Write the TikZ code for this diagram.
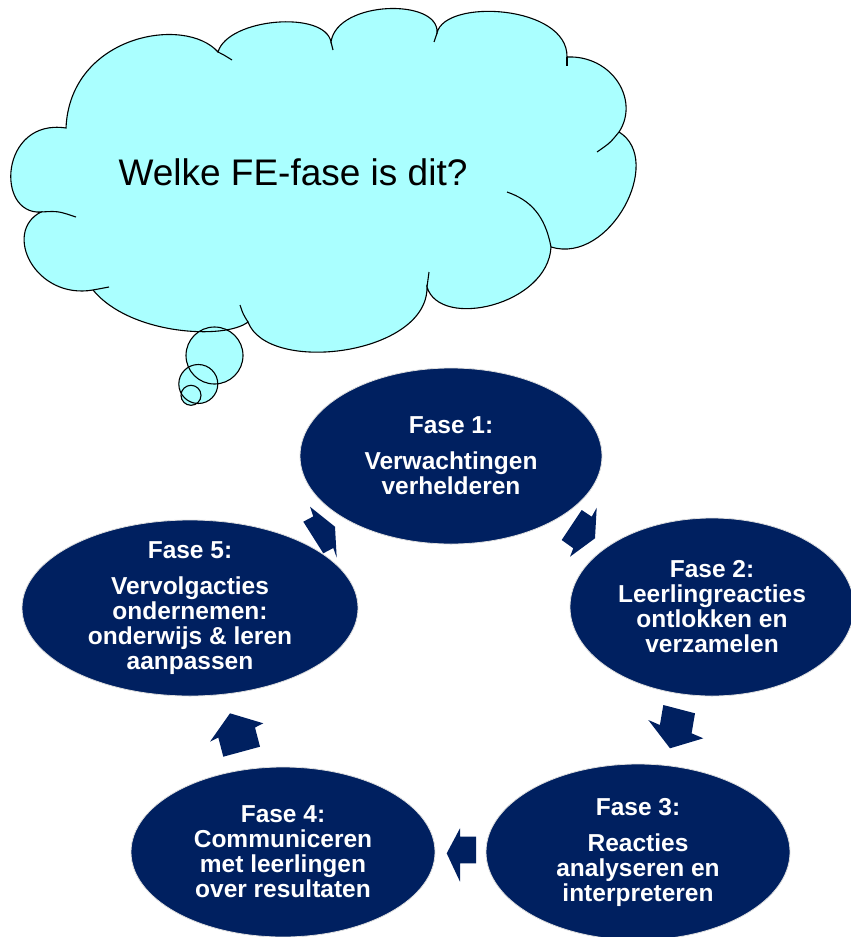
\documentclass[tikz,border=0pt]{standalone}
\usepackage{fontspec}
\setmainfont{Liberation Sans}
\usetikzlibrary{shapes.geometric}
\definecolor{navy}{RGB}{0,32,96}
\definecolor{cloudcyan}{RGB}{170,255,255}
\begin{document}
\begin{tikzpicture}[x=1pt,y=-1pt,
  phase/.style={ellipse, fill=navy, draw=gray!25, line width=0.8pt, inner sep=-8pt,
    text=white, font=\bfseries\fontsize{24.5}{25}\selectfont, align=center},
  blockarrow/.style={fill=navy},
  cloudline/.style={draw=black, line width=1.1pt},
  bubble/.style={fill=cloudcyan}]
\useasboundingbox (0,0) rectangle (851,937);

% cloud fill
\path[bubble] (66,128) .. controls (70,35) and (185,15) .. (218,52)
 .. controls (228,18) and (325,10) .. (331,42)
 .. controls (337,0) and (440,-2) .. (437,33)
 .. controls (445,-2) and (568,5) .. (567,57)
 .. controls (612,55) and (640,100) .. (619,132)
 .. controls (665,160) and (610,265) .. (551,247)
 .. controls (548,305) and (440,330) .. (427,287)
 .. controls (428,355) and (268,375) .. (248,322)
 .. controls (225,340) and (130,335) .. (93,290)
 .. controls (35,300) and (2,232) .. (41,212)
 .. controls (-5,215) and (0,118) .. (66,128) -- cycle;
\fill[bubble] (214.5,355.5) circle[radius=28.5];
\fill[bubble] (198.3,384) circle[radius=19.5];
\fill[bubble] (191,395.3) circle[radius=10];

% cloud outline
\path[cloudline] (66,128) .. controls (70,35) and (185,15) .. (218,52)
 .. controls (228,18) and (325,10) .. (331,42)
 .. controls (337,0) and (440,-2) .. (437,33)
 .. controls (445,-2) and (568,5) .. (567,57)
 .. controls (612,55) and (640,100) .. (619,132)
 .. controls (665,160) and (610,265) .. (551,247)
 .. controls (548,305) and (440,330) .. (427,287)
 .. controls (428,355) and (268,375) .. (248,322)
 .. controls (225,340) and (130,335) .. (93,290)
 .. controls (35,300) and (2,232) .. (41,212)
 .. controls (-5,215) and (0,118) .. (66,128) -- cycle;
% inner hooks
\path[cloudline] (218,52) .. controls (224,55) .. (232,60);
\path[cloudline] (331,42) -- (333,50);
\path[cloudline] (437,33) -- (434,42);
\path[cloudline] (567,57) -- (567,66);
\path[cloudline] (619,132) .. controls (610,143) .. (597,152);
\path[cloudline] (551,247) .. controls (545,215) and (530,200) .. (507,192);
\path[cloudline] (427,287) -- (429,272);
\path[cloudline] (248,322) .. controls (243,314) .. (240,305);
\path[cloudline] (93,290) -- (109,287);
\path[cloudline] (41,212) .. controls (58,211) .. (76,217);
\path[cloudline] (214.5,355.5) circle[radius=28.5];
\path[cloudline] (198.3,384) circle[radius=19.5];
\path[cloudline] (191,395.3) circle[radius=10];

\node[anchor=base west, font=\fontsize{37}{40}\selectfont] (q) at (115,185) {Welke FE-fase is dit?};

% phases
\node[phase, minimum width=302pt, minimum height=176pt] (f1) at (451,456)
  {Fase 1:\\[11pt]Verwachtingen\\verhelderen};
\node[phase, minimum width=284pt, minimum height=178pt] (f2) at (712,607)
  {Fase 2:\\Leerlingreacties\\ontlokken en\\verzamelen};
\node[phase, minimum width=304pt, minimum height=176pt] (f3) at (638,852)
  {Fase 3:\\[11pt]Reacties\\analyseren en\\interpreteren};
\node[phase, minimum width=304pt, minimum height=170pt] (f4) at (283,852)
  {Fase 4:\\Communiceren\\met leerlingen\\over resultaten};
\node[phase, minimum width=336pt, minimum height=176pt] (f5) at (190,608)
  {Fase 5:\\[11pt]Vervolgacties\\ondernemen:\\onderwijs \& leren\\aanpassen};

% block arrows
\fill[blockarrow] (581.7,510) -- (591.7,516.7) -- (596.7,507.7) -- (595,538.3) -- (570,556.7) -- (573.3,548.3) -- (561.7,540) -- cycle;
\fill[blockarrow] (663.3,705) -- (695,713.3) -- (691.6,733.3) -- (703.3,738.3) -- (670,748.3) -- (648.3,720) -- (659.9,725) -- cycle;
\fill[blockarrow] (446.7,853.3) -- (460,828.3) -- (460,836.7) -- (476,836.7) -- (476,863.3) -- (460,863.3) -- (460,881.7) -- cycle;
\fill[blockarrow] (230,713.3) -- (263.3,723.3) -- (255,727.5) -- (260,746.7) -- (223.3,756.7) -- (218.3,737.5) -- (210,741.7) -- cycle;
\fill[blockarrow] (303.3,521.7) -- (313.3,516.4) -- (310,506.7) -- (335,526.7) -- (336.7,557.7) -- (333.3,548) -- (323.3,553.3) -- cycle;
\end{tikzpicture}
\end{document}
